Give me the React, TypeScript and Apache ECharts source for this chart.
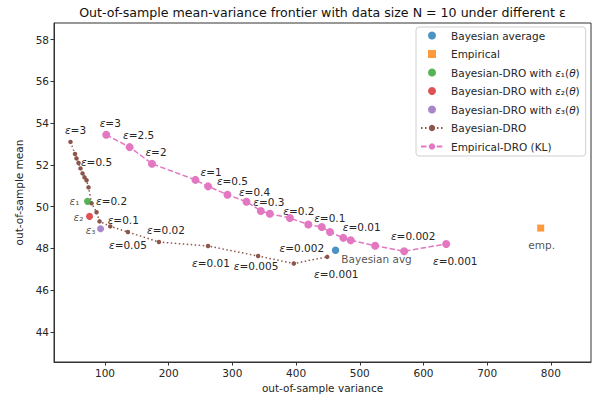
import React, { useEffect, useRef } from "react";
import * as echarts from "echarts";

// ---- data ----
const titleText = "Out-of-sample mean-variance frontier with data size N = 10 under different ε";
const xTicks = [100, 200, 300, 400, 500, 600, 700, 800];
const yTicks = [44, 46, 48, 50, 52, 54, 56, 58];

const bayesAvg = [462, 47.91];
const empirical = [784, 48.97];
const eps1Point = [72.6, 50.25];
const eps2Point = [75.8, 49.53];
const eps3Point = [93.1, 48.94];

const bdroX = [45.9, 53.0, 55.3, 58.5, 61.6, 64.8, 67.9, 71.1, 74.2, 78.9, 86.8, 91.5, 108.3, 136.0, 184.7, 261.8, 340.4, 396.5, 448.9];
const bdroY = [53.10, 52.52, 52.31, 52.09, 51.83, 51.59, 51.40, 51.26, 50.92, 50.16, 49.73, 49.29, 49.05, 48.78, 48.30, 48.11, 47.63, 47.27, 47.59];
const bdroEps = ["3", "", "", "", "0.5", "", "", "", "", "", "0.2", "", "0.1", "0.05", "0.02", "0.01", "0.005", "0.002", "0.001"];

const edroX = [102.0, 138.7, 173.8, 242.0, 261.9, 292.3, 322.2, 344.7, 358.8, 390.3, 419.2, 440.3, 453.3, 474.2, 485.8, 524.1, 569.7, 635.7];
const edroY = [53.44, 52.85, 52.05, 51.28, 50.97, 50.57, 50.23, 49.79, 49.66, 49.45, 49.14, 49.02, 48.78, 48.50, 48.39, 48.12, 47.86, 48.21];
const edroEps = ["3", "2.5", "2", "", "1", "0.5", "0.4", "0.3", "", "0.2", "", "0.1", "", "", "0.01", "", "0.002", "0.001"];

// ---- label placement (pixel offsets of label centres from their points) ----
const bdroLabelOffsets: Record<number, number[]> = {
  0: [5, -12], 4: [16, -6], 10: [15, -11], 12: [13, -6], 13: [0, 13],
  14: [7, -12], 15: [3, 17], 16: [-2, 10], 17: [8, -16], 18: [9, 17],
};
const edroLabelOffsets: Record<number, number[]> = {
  0: [4, -12], 1: [9, -12], 2: [4, -12], 4: [3, -14.5], 5: [5, -13.5], 6: [8, -9.5],
  7: [8, -9], 9: [9, -7.5], 11: [8, -9], 14: [11, -13], 16: [9, -15], 17: [9, 17],
};

const FONT = "DejaVu Sans";
const TXT = "#262626";
const FS = 10.5;
const rich = {
  i: { fontFamily: FONT, fontStyle: "italic" as const, fontSize: FS, color: TXT, lineHeight: 12 },
  n: { fontFamily: FONT, fontSize: FS, color: TXT, lineHeight: 12 },
};
const labelRich = {
  i: { fontFamily: FONT, fontStyle: "italic" as const, fontSize: FS, color: TXT, lineHeight: 8 },
  n: { fontFamily: FONT, fontSize: FS, color: TXT, lineHeight: 8 },
};

function buildLineData(xs: number[], ys: number[], eps: string[], offs: Record<number, number[]>) {
  return xs.map((x, k) => {
    const item: any = { value: [x, ys[k]] };
    if (eps[k]) {
      item.label = {
        show: true,
        position: "inside",
        offset: offs[k] || [6, -12],
        formatter: `{i|ε}{n|=${eps[k]}}`,
        rich: labelRich,
      };
    }
    return item;
  });
}

export default function App() {
  const ref = useRef<HTMLDivElement>(null);
  useEffect(() => {
    if (!ref.current) return;
    const chart = echarts.init(ref.current, undefined, { renderer: "svg" });
    const pointLabel = (txt: string, off: number[]) => ({
      show: true,
      position: "inside",
      offset: off,
      formatter: txt,
      rich: labelRich,
    });
    const legendNames: Record<string, string> = {
      "Bayesian-DRO with ε₁(θ)": "{n|Bayesian-DRO with }{i|ε}{n|₁(}{i|θ}{n|)}",
      "Bayesian-DRO with ε₂(θ)": "{n|Bayesian-DRO with }{i|ε}{n|₂(}{i|θ}{n|)}",
      "Bayesian-DRO with ε₃(θ)": "{n|Bayesian-DRO with }{i|ε}{n|₃(}{i|θ}{n|)}",
    };
    chart.setOption({
      animation: false,
      backgroundColor: "#ffffff",
      textStyle: { fontFamily: FONT },
      graphic: [
        {
          type: "text",
          x: 322.5,
          y: 12,
          style: {
            text: titleText,
            textAlign: "center",
            textVerticalAlign: "middle",
            font: `12.6px '${FONT}'`,
            fill: "#111",
          },
        },
      ],
      grid: {
        left: 54,
        right: 15,
        top: 23,
        bottom: 38,
        show: true,
        borderColor: "#333",
        borderWidth: 1,
        backgroundColor: "transparent",
      },
      legend: {
        orient: "vertical",
        left: 416,
        top: 27,
        padding: [3, 6, 4, 4],
        itemWidth: 22,
        itemHeight: 8,
        itemGap: 7.5,
        backgroundColor: "#fff",
        borderColor: "#d0d0d0",
        borderWidth: 1,
        borderRadius: 3,
        data: [
          { name: "Bayesian average", icon: "circle" },
          { name: "Empirical", icon: "path://M0,0L1,0L1,1L0,1Z" },
          { name: "Bayesian-DRO with ε₁(θ)", icon: "circle" },
          { name: "Bayesian-DRO with ε₂(θ)", icon: "circle" },
          { name: "Bayesian-DRO with ε₃(θ)", icon: "circle" },
          { name: "Bayesian-DRO" },
          { name: "Empirical-DRO (KL)" },
        ],
        formatter: (name: string) => legendNames[name] || `{n|${name}}`,
        textStyle: { fontFamily: FONT, fontSize: FS, color: TXT, padding: [0, 0, 0, 3], rich },
      },
      xAxis: {
        type: "value",
        min: 20,
        max: 863,
        name: "out-of-sample variance",
        nameLocation: "middle",
        nameGap: 20,
        nameTextStyle: { fontFamily: FONT, fontSize: FS, color: TXT },
        splitLine: { show: false },
        axisLine: { show: true, lineStyle: { color: "#333" } },
        axisTick: { show: true, length: 3.5, customValues: xTicks, lineStyle: { color: "#333" } },
        axisLabel: { customValues: xTicks, fontFamily: FONT, fontSize: FS, color: TXT, margin: 5 },
      },
      yAxis: {
        type: "value",
        min: 42.55,
        max: 58.8,
        name: "out-of-sample mean",
        nameLocation: "middle",
        nameGap: 30,
        nameTextStyle: { fontFamily: FONT, fontSize: FS, color: TXT },
        splitLine: { show: false },
        axisLine: { show: true, lineStyle: { color: "#333" } },
        axisTick: { show: true, length: 3.5, customValues: yTicks, lineStyle: { color: "#333" } },
        axisLabel: { customValues: yTicks, fontFamily: FONT, fontSize: FS, color: TXT, margin: 5 },
      },
      series: [
        {
          name: "Bayesian-DRO",
          type: "line",
          z: 2,
          symbol: "circle",
          symbolSize: 4.5,
          showSymbol: true,
          color: "#8c564b",
          lineStyle: { color: "#8c564b", width: 1.5, type: [1.5, 2.5] },
          itemStyle: { color: "#8c564b" },
          data: buildLineData(bdroX, bdroY, bdroEps, bdroLabelOffsets),
        },
        {
          name: "Empirical-DRO (KL)",
          type: "line",
          z: 2,
          symbol: "circle",
          symbolSize: 8,
          showSymbol: true,
          color: "#e377c2",
          lineStyle: { color: "#e377c2", width: 1.5, type: [5.5, 2.4] },
          itemStyle: { color: "#e377c2" },
          data: buildLineData(edroX, edroY, edroEps, edroLabelOffsets),
        },
        {
          name: "Bayesian average",
          type: "scatter",
          z: 3,
          symbol: "circle",
          symbolSize: 7.5,
          itemStyle: { color: "#1f77b4" },
          label: pointLabel("{n|Bayesian avg}", [41, 9]),
          data: [bayesAvg],
        },
        {
          name: "Empirical",
          type: "scatter",
          z: 3,
          symbol: "rect",
          symbolSize: 7,
          itemStyle: { color: "#ff7f0e" },
          label: pointLabel("{n|emp.}", [1, 17]),
          data: [empirical],
        },
        {
          name: "Bayesian-DRO with ε₁(θ)",
          type: "scatter",
          z: 3,
          symbolSize: 7,
          itemStyle: { color: "#2ca02c" },
          label: pointLabel("{i|ε}{n|₁}", [-13, 0]),
          data: [eps1Point],
        },
        {
          name: "Bayesian-DRO with ε₂(θ)",
          type: "scatter",
          z: 3,
          symbolSize: 7,
          itemStyle: { color: "#d62728" },
          label: pointLabel("{i|ε}{n|₂}", [-11, 1]),
          data: [eps2Point],
        },
        {
          name: "Bayesian-DRO with ε₃(θ)",
          type: "scatter",
          z: 3,
          symbolSize: 7,
          itemStyle: { color: "#9467bd" },
          label: pointLabel("{i|ε}{n|₃}", [-10, 1]),
          data: [eps3Point],
        },
      ],
    });
    return () => chart.dispose();
  }, []);
  return (
    <div
      ref={ref}
      style={{ position: "fixed", left: 0, top: 0, width: 606, height: 400, background: "#fff" }}
    />
  );
}
